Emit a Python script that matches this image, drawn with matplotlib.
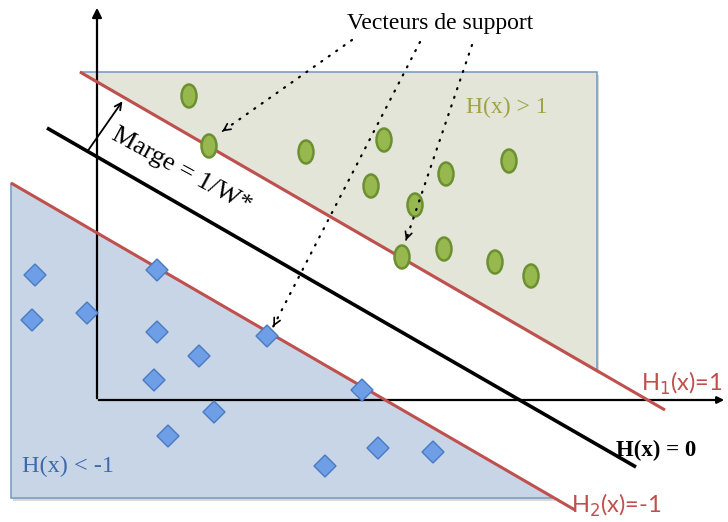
import numpy as np
import matplotlib
matplotlib.use('Agg')
import matplotlib.pyplot as plt
from matplotlib.patches import Polygon, Ellipse, RegularPolygon

# pixel-space diagram (y grows downward)
W, H = 728, 522

# class +1 (green ellipses)
pos_x = [189, 209, 306, 384, 371, 446, 415, 509, 444, 402, 495, 531]
pos_y = [96, 146, 152, 140, 186, 174, 205, 161, 249, 257, 262, 276]

# class -1 (blue diamonds)
neg_x = [35, 157, 32, 87, 157, 199, 267, 154, 362, 214, 168, 325, 378, 433]
neg_y = [275, 270, 320, 313, 332, 356, 336, 380, 390, 412, 436, 466, 448, 452]

# hyperplanes: (x_start, y_start, x_end, y_end)
h1_line = [80, 72, 665, 410]
h0_line = [47, 128, 636, 467]
h2_line = [11, 183, 575, 510]

# support vectors pointed to from the label: (start x, start y, tip x, tip y)
sv_arrows = [(352, 40, 220, 133), (420, 42, 272, 329), (472, 45, 405, 243)]

green_fill = '#e2e5d8'
blue_fill = '#c8d5e7'
frame_col = '#7d9dc6'
red = '#c0504d'

fig = plt.figure(figsize=(W / 100, H / 100), dpi=100)
ax = fig.add_axes([0, 0, 1, 1])
ax.set_xlim(0, W)
ax.set_ylim(H, 0)
ax.axis('off')


def y_on(line, x):
    x0, y0, x1, y1 = line
    return y0 + (y1 - y0) * (x - x0) / (x1 - x0)


def x_on(line, y):
    x0, y0, x1, y1 = line
    return x0 + (x1 - x0) * (y - y0) / (y1 - y0)


# regions (with a faint drop shadow)
right_x = 597
green_pts = [[h1_line[0], h1_line[1]], [right_x, h1_line[1]], [right_x, y_on(h1_line, right_x)]]
bottom_y = 498
blue_pts = [[h2_line[0], h2_line[1]], [h2_line[0], bottom_y], [x_on(h2_line, bottom_y), bottom_y]]
for pts in (green_pts, blue_pts):
    sh = [[px + 2, py + 3] for px, py in pts]
    ax.add_patch(Polygon(sh, closed=True, fc='#d8d8d8', ec='none', zorder=0.5))
ax.add_patch(Polygon(green_pts, closed=True, fc=green_fill, ec=frame_col, lw=1.2, zorder=1))
ax.add_patch(Polygon(blue_pts, closed=True, fc=blue_fill, ec=frame_col, lw=1.2, zorder=1))

# axes
ax.annotate('', xy=(97, 5), xytext=(97, 401),
            arrowprops=dict(arrowstyle='-|>', color='black', lw=1.6, mutation_scale=14), zorder=3)
ax.annotate('', xy=(727, 400), xytext=(96, 400),
            arrowprops=dict(arrowstyle='-|>', color='black', lw=1.6, mutation_scale=10), zorder=3)

# hyperplanes
for ln, col, lw in [(h1_line, red, 2.2), (h2_line, red, 2.2), (h0_line, 'black', 2.6)]:
    ax.plot([ln[0], ln[2]], [ln[1], ln[3]], color=col, lw=lw, solid_capstyle='butt', zorder=4)

# margin arrow
ax.annotate('', xy=(124, 99), xytext=(87, 152),
            arrowprops=dict(arrowstyle='->', color='black', lw=1.3, mutation_scale=12), zorder=5)

# points
for x, y in zip(pos_x, pos_y):
    ax.add_patch(Ellipse((x, y), 15, 23, fc='#96b84e', ec='#6c8f32', lw=1.8, zorder=6))
for x, y in zip(neg_x, neg_y):
    ax.add_patch(RegularPolygon((x, y), 4, radius=11, orientation=0,
                                fc='#6e9fe6', ec='#4a7ac2', lw=1.0, zorder=6))

# dotted pointers
for sx, sy, tx, ty in sv_arrows:
    ax.plot([sx, tx], [sy, ty], color='black', lw=1.6, ls=(0, (0.5, 3.6)),
            dash_capstyle='round', zorder=7)
    dx, dy = tx - sx, ty - sy
    n = np.hypot(dx, dy)
    ax.annotate('', xy=(tx, ty), xytext=(tx - 6 * dx / n, ty - 6 * dy / n),
                arrowprops=dict(arrowstyle='->', color='black', lw=1.2, mutation_scale=12), zorder=7)

serif = ['Liberation Serif', 'DejaVu Serif']
sans = ['Lato', 'DejaVu Sans']
ax.text(440, 23, 'Vecteurs de support', family=serif, fontsize=17,
        ha='center', va='center', zorder=8)
ax.text(110, 139, 'Marge = 1/W*', family=serif, fontsize=19, rotation=-28.5,
        rotation_mode='anchor', ha='left', va='baseline', zorder=8)
ax.text(466, 107, 'H(x) > 1', family=serif, fontsize=17, color='#9fa443',
        ha='left', va='center', zorder=8)
ax.text(22, 466, 'H(x) < -1', family=serif, fontsize=17.5, color='#3c69ad',
        ha='left', va='center', zorder=8)
ax.text(616, 450, 'H(x) = 0', family=serif, fontsize=16.5, fontweight='bold',
        ha='left', va='center', zorder=8)
ax.text(641, 383, r'H$_1$(x)=1', family=sans, fontsize=17, color=red,
        ha='left', va='center', zorder=8)
ax.text(571, 505, r'H$_2$(x)=-1', family=sans, fontsize=17, color=red,
        ha='left', va='center', zorder=8)

fig.savefig('out.png', dpi=100)
